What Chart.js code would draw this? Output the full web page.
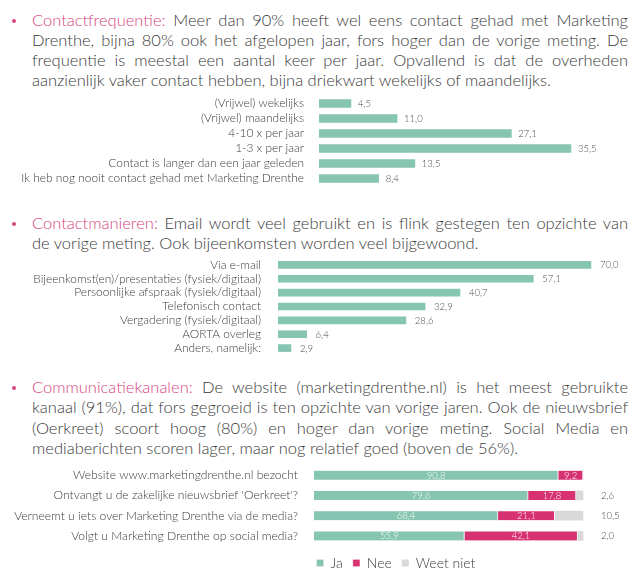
<!DOCTYPE html>
<html>
<head>
<meta charset="utf-8">
<script src="https://cdn.jsdelivr.net/npm/chart.js@4.4.1/dist/chart.umd.min.js"></script>
<style>
    html, body { margin: 0; padding: 0; background: #fff; width: 637px; height: 577px; overflow: hidden; }
    body { position: relative; font-family: Lato, sans-serif; font-weight: 300; color: #3a3a3a; }
    .para { position: absolute; left: 32px; width: 596px; line-height: 20px; }
    .ln { text-align: justify; text-align-last: justify; }
    .ln.last { text-align: left; text-align-last: left; }
    .hl { color: #d6457f; }
    .dot { position: absolute; left: 12px; width: 4px; height: 4px; border-radius: 50%; background: #d6457f; }
    canvas { position: absolute; left: 0; }
</style>
</head>
<body>
<canvas id="grafik-frequentie" width="637" height="90" style="top:96px"></canvas>
<canvas id="grafik-manieren" width="637" height="97" style="top:258px"></canvas>
<canvas id="grafik-kanalen" width="792" height="115" style="top:465px"></canvas>

<script>
// Contactfrequentie
const freqLabels = ['(Vrijwel) wekelijks', '(Vrijwel) maandelijks', '4-10 x per jaar', '1-3 x per jaar',
    'Contact is langer dan een jaar geleden', 'Ik heb nog nooit contact gehad met Marketing Drenthe'];
const freqValues = [4.5, 11.0, 27.1, 35.5, 13.5, 8.4];

// Contactmanieren
const mannerLabels = ['Via e-mail', 'Bijeenkomst(en)/presentaties (fysiek/digitaal)', 'Persoonlijke afspraak (fysiek/digitaal)',
    'Telefonisch contact', 'Vergadering (fysiek/digitaal)', 'AORTA overleg', 'Anders, namelijk:'];
const mannerValues = [70.0, 57.1, 40.7, 32.9, 28.6, 6.4, 2.9];

// Communicatiekanalen
const channelLabels = ['Website www.marketingdrenthe.nl bezocht', "Ontvangt u de zakelijke nieuwsbrief 'Oerkreet'?",
    'Verneemt u iets over Marketing Drenthe via de media?', 'Volgt u Marketing Drenthe op social media?'];
const channelSeries = ['Ja', 'Nee', 'Weet niet'];
const channelJa = [90.8, 79.6, 68.4, 55.9];
const channelNee = [9.2, 17.8, 21.1, 42.1];
const channelWeetNiet = [0, 2.6, 10.5, 2.0];

const TEAL = '#86c5b1';
const PINK = '#d63171';
const GREY = '#d9d9d9';

// tekstblokken
const paragraphs = [
    { top: 10, lh: 20, head: 'Contactfrequentie:', lines: [
        ' Meer dan 90% heeft wel eens contact gehad met Marketing',
        'Drenthe, bijna 80% ook het afgelopen jaar, fors hoger dan de vorige meting. De',
        'frequentie is meestal een aantal keer per jaar. Opvallend is dat de overheden',
        'aanzienlijk vaker contact hebben, bijna driekwart wekelijks of maandelijks.'] },
    { top: 213, lh: 20, head: 'Contactmanieren:', lines: [
        ' Email wordt veel gebruikt  en is flink gestegen ten opzichte van',
        'de vorige meting. Ook bijeenkomsten worden veel bijgewoond.'] },
    { top: 377, lh: 20.3, head: 'Communicatiekanalen:', lines: [
        ' De website (marketingdrenthe.nl) is het meest gebruikte',
        'kanaal (91%), dat fors gegroeid is ten opzichte van vorige jaren. Ook de nieuwsbrief',
        '(Oerkreet) scoort hoog (80%) en hoger dan vorige meting. Social Media en',
        'mediaberichten scoren lager, maar nog relatief goed (boven de 56%).'] }
];

const measureCtx = document.createElement('canvas').getContext('2d');
const textWidth = (text, family) => {
    measureCtx.font = '300 100px ' + family;
    return measureCtx.measureText(text).width / 100;
};
const fitSize = (text, family, target) => target / textWidth(text, family);

// lettergrootte: laatste regel eerste alinea loopt tot ~568px
let bodySize = fitSize(paragraphs[0].lines[3], 'Lato', 536);
paragraphs.forEach(p => p.lines.forEach((l, i) => {
    const t = (i === 0 ? p.head : '') + l;
    bodySize = Math.min(bodySize, fitSize(t, 'Lato', 590));
}));

paragraphs.forEach(p => {
    const div = document.createElement('div');
    div.className = 'para';
    div.style.top = p.top + 'px';
    div.style.lineHeight = p.lh + 'px';
    div.style.fontSize = bodySize.toFixed(2) + 'px';
    p.lines.forEach((l, i) => {
        const ln = document.createElement('div');
        ln.className = 'ln' + (i === p.lines.length - 1 ? ' last' : '');
        if (i === 0) {
            const hl = document.createElement('span');
            hl.className = 'hl';
            hl.textContent = p.head;
            ln.appendChild(hl);
        }
        ln.appendChild(document.createTextNode(l));
        div.appendChild(ln);
    });
    document.body.appendChild(div);
    const dot = document.createElement('div');
    dot.className = 'dot';
    dot.style.top = (p.top + p.lh / 2 - 1) + 'px';
    document.body.appendChild(dot);
});

const fmt = v => v.toFixed(1).replace('.', ',');

// waarden naast / in de balken
const valueLabels = {
    id: 'valueLabels',
    afterDatasetsDraw(chart, args, opts) {
        const { ctx } = chart;
        const xScale = chart.scales.x;
        ctx.save();
        ctx.textBaseline = 'middle';
        ctx.font = '300 ' + opts.size + 'px Lato';
        chart.data.datasets.forEach((ds, di) => {
            const place = opts.place[di];
            chart.getDatasetMeta(di).data.forEach((bar, i) => {
                const v = ds.data[i];
                if (!v) return;
                if (place === 'inside') {
                    ctx.fillStyle = 'rgba(255,255,255,0.95)';
                    ctx.textAlign = 'center';
                    ctx.fillText(fmt(v), (bar.x + bar.base) / 2, bar.y + 0.5);
                } else if (place === 'outside') {
                    ctx.fillStyle = '#4a4a4a';
                    ctx.textAlign = 'left';
                    ctx.fillText(fmt(v), xScale.getPixelForValue(100) + opts.offset, bar.y + 0.5);
                } else {
                    ctx.fillStyle = '#4a4a4a';
                    ctx.textAlign = 'left';
                    ctx.fillText(fmt(v), bar.x + opts.offset, bar.y + 0.5);
                }
            });
        });
        ctx.restore();
    }
};

const hBarOptions = (axisWidth, xMax, tickPad, fontSize, stacked) => ({
    indexAxis: 'y',
    responsive: false,
    animation: false,
    layout: { padding: 0 },
    plugins: {
        legend: { display: false },
        tooltip: { enabled: false }
    },
    scales: {
        x: { display: false, min: 0, max: xMax, stacked: stacked },
        y: {
            stacked: stacked,
            grid: { display: false },
            border: { display: false },
            ticks: { autoSkip: false, color: '#3a3a3a', padding: tickPad, font: { family: 'Lato', weight: 300, size: fontSize } },
            afterFit: scale => {
                scale.width = axisWidth;
                scale.paddingTop = 0;
                scale.paddingBottom = 0;
            }
        }
    }
});

const freqSize = fitSize(freqLabels[5], 'Lato', 283);
const freqOpts = hBarOptions(319, 44.8, 7, freqSize, false);
freqOpts.plugins.valueLabels = { place: ['end'], offset: 7, size: 9.5 };
new Chart(document.getElementById('grafik-frequentie'), {
    type: 'bar',
    data: {
        labels: freqLabels,
        datasets: [{ label: 'Contactfrequentie', data: freqValues, backgroundColor: TEAL, barThickness: 8 }]
    },
    options: freqOpts,
    plugins: [valueLabels]
});

const mannerSize = fitSize(mannerLabels[1], 'Lato', 228);
const mannerOpts = hBarOptions(278, 80.3, 9, mannerSize, false);
mannerOpts.plugins.valueLabels = { place: ['end'], offset: 9, size: 9.5 };
new Chart(document.getElementById('grafik-manieren'), {
    type: 'bar',
    data: {
        labels: mannerLabels,
        datasets: [{ label: 'Contactmanieren', data: mannerValues, backgroundColor: TEAL, barThickness: 7 }]
    },
    options: mannerOpts,
    plugins: [valueLabels]
});

// 100% eindigt op x=583; canvas breder zodat de legenda rond x=396 centreert
const channelSize = fitSize(channelLabels[2], 'Lato', 284);
const channelOpts = hBarOptions(314, 177.7, 8, channelSize, true);
channelOpts.plugins.valueLabels = { place: ['inside', 'inside', 'outside'], offset: 18, size: 9.5 };
channelOpts.plugins.legend = {
    display: true,
    position: 'bottom',
    labels: { boxWidth: 7, boxHeight: 7, padding: 10, color: '#3a3a3a', font: { family: 'Lato', weight: 300, size: 14 } }
};
const segBorder = { top: 0, bottom: 0, left: 0, right: 1 };
new Chart(document.getElementById('grafik-kanalen'), {
    type: 'bar',
    data: {
        labels: channelLabels,
        datasets: [
            { label: channelSeries[0], data: channelJa, backgroundColor: TEAL, borderColor: '#fff', borderWidth: segBorder, barThickness: 9 },
            { label: channelSeries[1], data: channelNee, backgroundColor: PINK, borderColor: '#fff', borderWidth: segBorder, barThickness: 9 },
            { label: channelSeries[2], data: channelWeetNiet, backgroundColor: GREY, borderWidth: 0, barThickness: 9 }
        ]
    },
    options: channelOpts,
    plugins: [valueLabels]
});
</script>
</body>
</html>
